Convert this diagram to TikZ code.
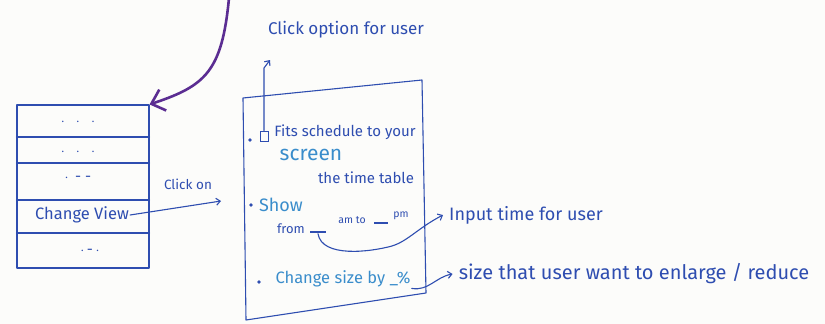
\documentclass[tikz,border=0pt]{standalone}
\usepackage{fontspec}
\setmainfont{Fira Sans}
\usepackage{tikz}
\usetikzlibrary{arrows.meta}

\definecolor{ink}{HTML}{2E4DB0}
\definecolor{lightink}{HTML}{3A8DCB}
\definecolor{marker}{HTML}{5B2D92}
\definecolor{paper}{HTML}{FCFCFA}

\begin{document}
\begin{tikzpicture}[x=1pt, y=-1pt,
	pen/.style={draw=ink, line width=1.1pt, line cap=round, line join=round},
	tip/.style={-{Straight Barb[length=4pt,width=7pt]}},
	txt/.style={text=ink, inner sep=1pt},
	opt/.style={text=lightink, inner sep=1pt},
	bullet/.style={circle, fill=ink, inner sep=0, minimum size=3.6pt},
	blank/.style={txt, font=\fontsize{12}{12}\selectfont},
	fs/.style={font=\fontsize{#1}{#1}\selectfont}]
	\useasboundingbox (0,0) rectangle (825,324);
	\fill[paper] (0,0) rectangle (825,324);

	\node[pen, minimum width=132pt, minimum height=163pt, inner sep=0] (menu) at (83,186.5) {};
	\foreach \y in {137,163,200,233}
		\draw[pen] (menu.west |- 0,\y) -- (menu.east |- 0,\y);
	\node[txt, fs=15] (row1) at (78,122) {$\cdot\;\;\cdot\;\;\cdot$};
	\node[txt, fs=15] (row2) at (78,152) {$\cdot\;\;\cdot\;\;\cdot$};
	\node[txt, fs=15] (row3) at (78,178) {$\cdot$ \,- -};
	\node[txt, fs=16.5] (view) at (82,215) {Change View};
	\node[txt, fs=15] (row5) at (90,251) {$\cdot$\,-\,$\cdot$};

	\coordinate (top) at (229,-2);
	\draw[draw=marker, line width=2.6pt, line cap=round, -{Straight Barb[length=12pt,width=22pt]}]
		(top) .. controls (222,72) and (205,86) .. (menu.north east);

	\coordinate (clickend) at (221,201);
	\draw[pen, tip] (view.east) -- (clickend);
	\node[txt, fs=13.5] (clicklbl) at (188,184) {Click on};

	\coordinate (rtl) at (243,98);
	\coordinate (rtr) at (422,80);
	\coordinate (rbr) at (426,293);
	\coordinate (rbl) at (246,320);
	\draw[pen] (rtl) -- (rtr) -- (rbr) -- (rbl) -- cycle;

	\node[txt, fs=17] (clicknote) at (346,30) {Click option for user};
	\node[bullet] (dot1) at (250,140) {};
	\node[draw=ink, line width=0.9pt, minimum width=8pt, minimum height=10pt, inner sep=0] (chk) at (264,136) {};
	\node[txt, fs=15] (fits) at (345,132) {Fits schedule to your};
	\node[opt, fs=21] (screen) at (311,155) {screen};
	\node[txt, fs=15] (table) at (366,178) {the time table};
	\node[bullet] (dot2) at (251,205) {};
	\node[opt, fs=18] (show) at (281,205) {Show};
	\node[txt, fs=13] (from) at (291,229) {from};
	\node[blank] (amblank) at (318,232) {\rule{16pt}{1.1pt}};
	\node[txt, fs=10.5] (amto) at (352,220) {am to};
	\node[blank] (pmblank) at (381,223) {\rule{14pt}{1.1pt}};
	\node[txt, fs=10.5] (pm) at (401,216) {pm};
	\node[bullet] (dot3) at (259,282) {};
	\node[opt, fs=16.5] (sizeopt) at (343,279) {Change size by \_\%};

	\node[txt, fs=18, inner xsep=6pt] (inputnote) at (526,215) {Input time for user};
	\node[txt, fs=20, inner xsep=6pt] (sizenote) at (634,274) {size that user want to enlarge / reduce};

	\coordinate (clicktip) at (270,60);
	\draw[pen, tip] (chk.north) -- (chk.north |- 0,68) -- (clicktip);

	\coordinate (under) at (392,246);
	\draw[pen, tip] (amblank.south) .. controls (322,258) and (370,252) .. (under)
		.. controls (408,241) and (418,228) .. (inputnote.west);
	\draw[pen, tip] (sizeopt.south east) to[out=-10,in=190] (sizenote.west);
\end{tikzpicture}
\end{document}
